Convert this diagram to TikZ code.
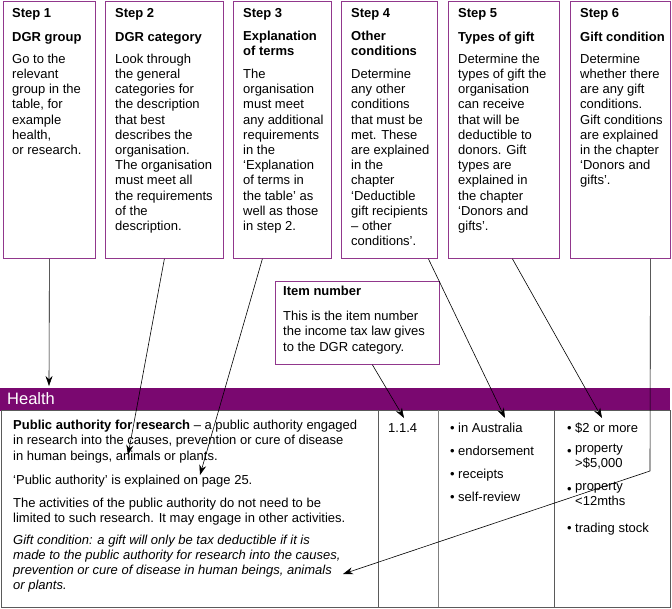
\documentclass[tikz,border=0pt]{standalone}
\usepackage{fontspec}
\setmainfont{Liberation Sans}
\usetikzlibrary{arrows.meta}
\definecolor{dgrpurple}{RGB}{122,8,112}
\definecolor{boxpurple}{RGB}{145,55,140}
\definecolor{tabgray}{RGB}{90,90,90}
\begin{document}
\begin{tikzpicture}[x=1pt,y=-1pt,
  stepbox/.style={draw=boxpurple,line width=0.8pt,fill=white,anchor=north west,minimum height=257pt,inner sep=0pt},
  txt/.style={anchor=north west,inner sep=0pt,align=left,font=\fontsize{13}{15.2}\selectfont,
    execute at begin node={\rule{0pt}{11pt}}},
  arr/.style={line width=0.6pt,-{Stealth[length=10pt,width=7pt]}},
  tabline/.style={draw=tabgray,line width=0.7pt}]
\useasboundingbox (0,0) rectangle (672,608);

% step boxes
\node[stepbox,minimum width=92pt]  (s1) at (3,1) {};
\node[stepbox,minimum width=118pt] (s2) at (105,1) {};
\node[stepbox,minimum width=98pt]  (s3) at (233,1) {};
\node[stepbox,minimum width=96pt]  (s4) at (341,1) {};
\node[stepbox,minimum width=111pt] (s5) at (448,1) {};
\node[stepbox,minimum width=100pt] (s6) at (570,1) {};

% first baseline at y=19 -> node top at 8
\node[txt] (t1) at (12,8) {\textbf{Step 1}\\[8.8pt]\textbf{DGR group}\\[6.8pt]Go to the\\relevant\\group in the\\table, for\\example\\health,\\or research.};
\node[txt] (t2) at (115,8) {\textbf{Step 2}\\[8.8pt]\textbf{DGR category}\\[6.8pt]Look through\\the general\\categories for\\the description\\that best\\describes the\\organisation.\\The organisation\\must meet all\\the requirements\\of the\\description.};
\node[txt] (t3) at (243,8) {\textbf{Step 3}\\[7.8pt]\textbf{Explanation}\\\textbf{of terms}\\[7.8pt]The\\organisation\\must meet\\any additional\\requirements\\in the\\‘Explanation\\of terms in\\the table’ as\\well as those\\in step 2.};
\node[txt] (t4) at (351,8) {\textbf{Step 4}\\[7.8pt]\textbf{Other}\\\textbf{conditions}\\[7.8pt]Determine\\any other\\conditions\\that must be\\met. These\\are explained\\in the\\chapter\\‘Deductible\\gift recipients\\– other\\conditions’.};
\node[txt] (t5) at (458,8) {\textbf{Step 5}\\[8.8pt]\textbf{Types of gift}\\[6.8pt]Determine the\\types of gift the\\organisation\\can receive\\that will be\\deductible to\\donors. Gift\\types are\\explained in\\the chapter\\‘Donors and\\gifts’.};
\node[txt] (t6) at (580,8) {\textbf{Step 6}\\[8.8pt]\textbf{Gift condition}\\[6.8pt]Determine\\whether there\\are any gift\\conditions.\\Gift conditions\\are explained\\in the chapter\\‘Donors and\\gifts’.};

% item number box
\node[draw=boxpurple,line width=0.8pt,fill=white,anchor=north west,minimum width=164pt,minimum height=83pt,inner sep=0pt] (item) at (275,281) {};
\node[txt] (itxt) at (283,286) {\textbf{Item number}\\[9.8pt]This is the item number\\the income tax law gives\\to the DGR category.};

% health bar and table
\node[fill=dgrpurple,anchor=north west,minimum width=670pt,minimum height=23pt,inner sep=0pt] (bar) at (0,388) {};
\node[anchor=base west,inner sep=0pt,text=white,font=\fontsize{16.5}{18}\selectfont] (health) at (7,404) {Health};
\node[tabline,anchor=north west,minimum width=669pt,minimum height=197pt,inner sep=0pt] (tab) at (1,410) {};
\draw[tabline] (378,410) -- (378,607);
\draw[tabline,draw=gray] (438,410) -- (438,607);
\draw[tabline] (554,410) -- (554,607);

\node[txt] (desc) at (13,420) {\textbf{Public authority for research} – a public authority engaged\\in research into the causes, prevention or cure of disease\\in human beings, animals or plants.\\[8.8pt]‘Public authority’ is explained on page 25.\\[7.8pt]The activities of the public authority do not need to be\\limited to such research. It may engage in other activities.\\[6.8pt]\itshape Gift condition: a gift will only be tax deductible if it is\\\itshape made to the public authority for research into the causes,\\\itshape prevention or cure of disease in human beings, animals\\\itshape or plants.};

\node[txt] (num) at (388,421) {1.1.4};

\node[txt] (b1) at (450,421) {•};
\node[txt] (c1) at (458,421) {in Australia};
\node[txt] (b2) at (450,444) {•};
\node[txt] (c2) at (458,444) {endorsement};
\node[txt] (b3) at (450,467) {•};
\node[txt] (c3) at (458,467) {receipts};
\node[txt] (b4) at (450,490) {•};
\node[txt] (c4) at (458,490) {self-review};

\node[txt] (g1b) at (567,421) {•};
\node[txt] (g1) at (575,421) {\$2 or more};
\node[txt] (g2b) at (567,444) {•};
\node[txt] (g2) at (575,444) {property\\>\$5,000};
\node[txt] (g3b) at (567,482) {•};
\node[txt] (g3) at (575,482) {property\\<12mths};
\node[txt] (g4b) at (567,521) {•};
\node[txt] (g4) at (575,521) {trading stock};

% arrow targets
\coordinate (e1) at (49,386);
\coordinate (e2) at (128,455);
\coordinate (e3) at (200,475);
\coordinate (e4) at (404,418);
\coordinate (e5) at (505,418);
\coordinate (e6) at (602,418);
\coordinate (k7) at (650,471);
\coordinate (e7) at (343,574);

\draw[arr] (s1.south) -- (e1);
\draw[arr] (s2.south) -- (e2);
\draw[arr] ([xshift=-20pt]s3.south) -- (e3);
\draw[arr] ([xshift=15pt]item.south) -- (e4);
\draw[arr] ([xshift=39pt]s4.south) -- (e5);
\draw[arr] ([xshift=8.5pt]s5.south) -- (e6);
\draw[arr] ([xshift=30pt]s6.south) -- (k7) -- (e7);
\end{tikzpicture}
\end{document}
